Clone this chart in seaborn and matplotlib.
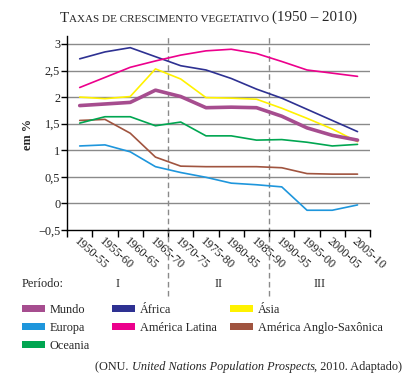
import matplotlib
matplotlib.use('Agg')
import matplotlib.pyplot as plt
import matplotlib.transforms as mtransforms
from matplotlib.patches import Patch
import seaborn as sns
import pandas as pd

# dados (taxa de crescimento vegetativo, em %)
periodos = ['1950-55', '1955-60', '1960-65', '1965-70', '1970-75', '1975-80',
            '1980-85', '1985-90', '1990-95', '1995-00', '2000-05', '2005-10']
mundo = [1.84, 1.87, 1.90, 2.13, 2.01, 1.80, 1.81, 1.80, 1.64, 1.42, 1.28, 1.19]
africa = [2.72, 2.85, 2.93, 2.76, 2.59, 2.51, 2.35, 2.15, 1.98, 1.77, 1.56, 1.35]
asia = [2.00, 1.97, 2.01, 2.53, 2.34, 1.99, 1.98, 1.96, 1.79, 1.60, 1.40, 1.16]
europa = [1.08, 1.10, 0.97, 0.69, 0.58, 0.49, 0.38, 0.35, 0.31, -0.13, -0.13, -0.03]
am_latina = [2.18, 2.37, 2.56, 2.68, 2.79, 2.87, 2.90, 2.82, 2.67, 2.51, 2.45, 2.39]
am_anglo = [1.56, 1.58, 1.32, 0.87, 0.70, 0.69, 0.69, 0.69, 0.67, 0.56, 0.55, 0.55]
oceania = [1.51, 1.63, 1.63, 1.46, 1.53, 1.27, 1.27, 1.19, 1.20, 1.15, 1.08, 1.11]

y_ticks = [-0.5, 0, 0.5, 1, 1.5, 2, 2.5, 3]
y_labels = ['\u22120,5', '0', '0,5', '1', '1,5', '2', '2,5', '3']
fases = ['I', 'II', 'III']

series = {
    'Mundo': (mundo, '#a64d8f', 2.6),
    'África': (africa, '#2e3192', 1.2),
    'Ásia': (asia, '#fff200', 1.2),
    'Europa': (europa, '#1e96dc', 1.2),
    'América Latina': (am_latina, '#ec008c', 1.2),
    'América Anglo-Saxônica': (am_anglo, '#a0543f', 1.2),
    'Oceania': (oceania, '#00a651', 1.2),
}

FS = 8.8

sns.set_theme(style='white')
plt.rcParams['font.family'] = ['Liberation Serif', 'DejaVu Serif']
plt.rcParams['font.size'] = FS

fig = plt.figure(figsize=(4.09, 3.91), dpi=100)
ax = fig.add_axes([0.164, 0.412, 0.741, 0.496])

x = list(range(len(periodos)))
for nome, (vals, cor, lw) in series.items():
    df = pd.DataFrame({'x': x, 'y': vals})
    sns.lineplot(data=df, x='x', y='y', ax=ax, color=cor, linewidth=lw,
                 zorder=3 if nome != 'Mundo' else 4)

ax.set_xlim(-0.5, 11.5)
ax.set_ylim(-0.5, 3.15)
ax.set_yticks(y_ticks)
ax.set_yticklabels(y_labels, fontsize=FS, color='#222222')
ax.set_xlabel('')
ax.set_ylabel('em %', fontweight='bold', fontsize=FS)
ax.yaxis.set_label_coords(-0.11, 0.49)

# ticks nas fronteiras dos períodos, rótulos no centro
ax.set_xticks([i - 0.5 for i in range(len(periodos) + 1)])
ax.set_xticklabels([])
ax.set_xticks(x, minor=True)
ax.set_xticklabels(periodos, minor=True, rotation=-42, ha='left', va='top',
                   rotation_mode='anchor', fontsize=FS, color='#222222')
ax.tick_params(axis='x', which='minor', length=0, pad=4)
ax.tick_params(axis='x', which='major', length=5, width=1, color='black', direction='out', bottom=True)
ax.tick_params(axis='y', length=4, width=1, color='black', direction='out', left=True, pad=1)

ax.grid(False)
for yv in y_ticks[1:]:
    ax.axhline(yv, color='#8a8a8a', lw=1, zorder=1)

for s in ['top', 'right']:
    ax.spines[s].set_visible(False)
for s in ['left', 'bottom']:
    ax.spines[s].set_color('black')
    ax.spines[s].set_linewidth(1)

# divisões dos períodos
for xv in [3.5, 7.5]:
    ax.axvline(xv, ymin=-0.34, ymax=1.0, color='#8a8a8a', lw=1, ls=(0, (4, 2.5)),
               clip_on=False, zorder=2)

trans = mtransforms.blended_transform_factory(ax.transData, ax.transAxes)
for xv, f in zip([1.5, 5.5, 9.5], fases):
    ax.text(xv, -0.278, f, transform=trans, ha='center', va='center', fontsize=FS)
fig.text(22 / 409, 1 - 284 / 391, 'Período:', ha='left', va='center', fontsize=FS)

# título em versalete
t1 = fig.text(60 / 409, 1 - 18 / 391, 'T', ha='left', va='center', fontsize=10.8)
t2 = ax.annotate('AXAS DE CRESCIMENTO VEGETATIVO ', xy=(1, 0), xycoords=t1,
                 va='bottom', ha='left', fontsize=8.0)
ax.annotate('(1950 \u2013 2010)', xy=(1, 0), xycoords=t2, va='bottom', ha='left',
            fontsize=10.8)

# legenda: três colunas posicionadas como no original
colunas = [['Mundo', 'Europa', 'Oceania'], ['África', 'América Latina'],
           ['Ásia', 'América Anglo-Saxônica']]
col_x = [22, 112, 230]
for nomes, cx in zip(colunas, col_x):
    handles = [Patch(facecolor=series[n][1], edgecolor='none') for n in nomes]
    fig.legend(handles, nomes, loc='upper left', bbox_to_anchor=(cx / 409, 1 - 304 / 391),
               ncol=1, frameon=False, fontsize=FS, handlelength=1.85, handleheight=0.5,
               handletextpad=0.4, labelspacing=0.5, borderpad=0, borderaxespad=0)

# fonte
s1 = fig.text(95 / 409, 1 - 367 / 391, '(ONU. ', ha='left', va='center', fontsize=FS)
s2 = ax.annotate('United Nations Population Prospects', xy=(1, 0), xycoords=s1,
                 va='bottom', ha='left', fontsize=FS, style='italic')
ax.annotate(', 2010. Adaptado)', xy=(1, 0), xycoords=s2, va='bottom', ha='left',
            fontsize=FS)

fig.savefig('out.png', dpi=100)
